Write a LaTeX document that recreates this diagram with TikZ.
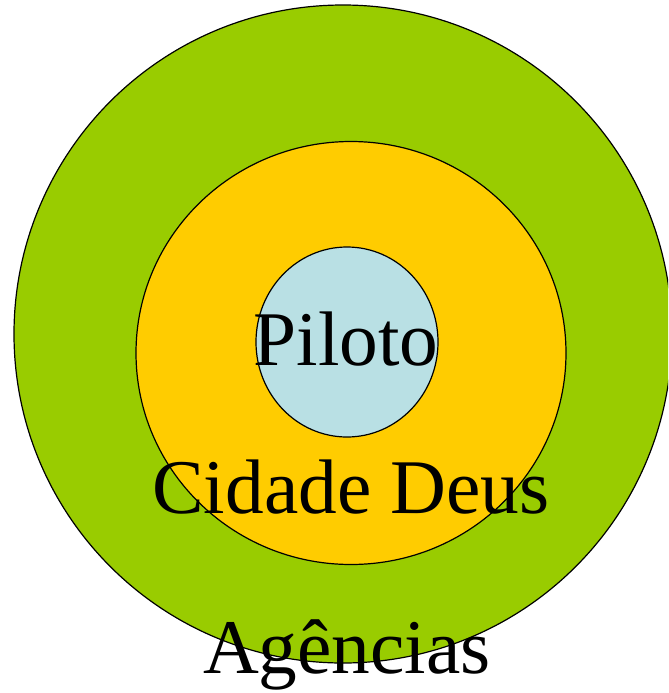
\documentclass[tikz,border=0pt]{standalone}
\usepackage{fontspec}
\setmainfont{Liberation Serif}
\usetikzlibrary{shapes.geometric}
\definecolor{verde}{HTML}{99CC00}
\definecolor{amarelo}{HTML}{FFCC00}
\definecolor{azulclaro}{HTML}{B9E0E4}
\begin{document}
\begin{tikzpicture}[x=0.75pt,y=-0.75pt]
\tikzset{anel/.style={draw, ellipse, line width=0.9pt, inner sep=0pt},
  rotulo/.style={anchor=base, inner sep=0pt, font=\fontsize{58}{60}\selectfont}}
\useasboundingbox (0,0) rectangle (668,693);
\clip (0,0) rectangle (668,693);
\node[anel, fill=verde, minimum width=493.5pt, minimum height=493.5pt] (Agencias) at (343,334) {};
\node[anel, fill=amarelo, minimum width=322.5pt, minimum height=317.25pt] (Cidade) at (351,353) {};
\node[anel, fill=azulclaro, minimum width=136.5pt, minimum height=142.5pt] (Piloto) at (347,342) {};
\node[rotulo] (TPiloto) at (346,365) {Piloto};
\node[rotulo] (TCidade) at (351,513) {Cidade Deus};
\node[rotulo] (TAgencias) at (347,673) {Agências};
\end{tikzpicture}
\end{document}
